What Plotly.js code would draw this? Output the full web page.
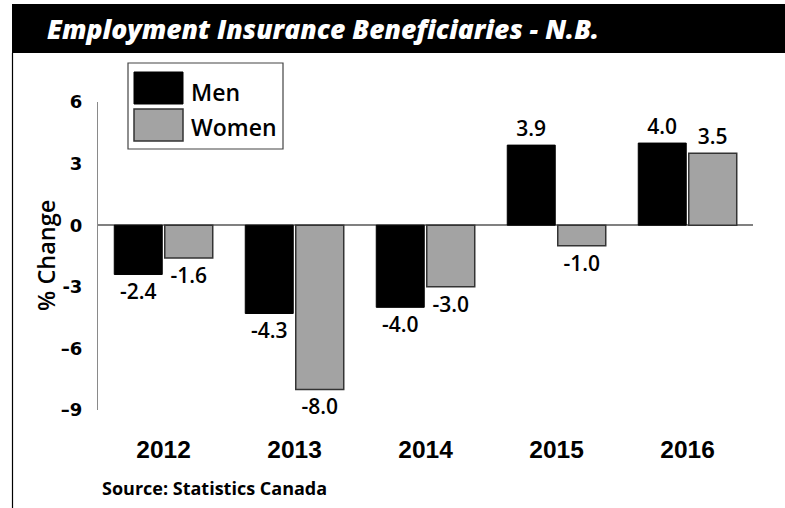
<!DOCTYPE html>
<html>
<head>
<meta charset="utf-8">
<script src="https://cdn.plot.ly/plotly-3.0.1.min.js"></script>
<style>html,body{margin:0;padding:0;background:#fff;}#chart{width:785px;height:508px;}</style>
</head>
<body>
<div id="chart"></div>
<script>
// Data
var years = ["2012", "2013", "2014", "2015", "2016"];
var menValues = [-2.4, -4.3, -4.0, 3.9, 4.0];
var womenValues = [-1.6, -8.0, -3.0, -1.0, 3.5];
var seriesNames = ["Men", "Women"];
var yTickValues = [-9, -6, -3, 0, 3, 6];
var yTickLabels = ["\u20139", "\u20136", "-3", "0", "3", "6"];

// Layout geometry (pixels)
var W = 785, H = 508;
var L = 98, R = 32, T = 102, B = 98;
var PW = W - L - R, PH = H - T - B;
function px(x) { return (x - L) / PW; }
function py(y) { return (T + PH - y) / PH; }

var labelFont = {family: "Open Sans, sans-serif", size: 21, color: "#000", weight: 600};

var traces = [
  {
    type: "bar", name: seriesNames[0], x: years, y: menValues,
    marker: {color: "#000000", line: {color: "#000000", width: 1}},
    texttemplate: "%{y:.1f}", textposition: "outside", textfont: labelFont,
    constraintext: "none", cliponaxis: false, hoverinfo: "x+y"
  },
  {
    type: "bar", name: seriesNames[1], x: years, y: womenValues,
    marker: {color: "#a3a3a3", line: {color: "#333333", width: 1.5}},
    texttemplate: "%{y:.1f}", textposition: "outside", textfont: labelFont,
    constraintext: "none", cliponaxis: false, hoverinfo: "x+y"
  }
];

var layout = {
  width: W, height: H,
  margin: {l: L, r: R, t: T, b: B, pad: 0},
  paper_bgcolor: "#ffffff", plot_bgcolor: "#ffffff",
  showlegend: false,
  barmode: "group", bargap: 0.229, bargroupgap: 0.05,
  title: {
    text: "Employment Insurance Beneficiaries - N.B.",
    font: {family: "Open Sans, sans-serif", size: 26.5, color: "#ffffff", weight: 800, style: "italic"},
    xref: "container", yref: "container", x: 47 / W, xanchor: "left",
    y: 1 - 30 / H, yanchor: "middle"
  },
  xaxis: {
    type: "category", range: [-0.5, 4.5], fixedrange: true,
    showline: false, showgrid: false, zeroline: false, ticks: "",
    ticklabelstandoff: 22,
    tickfont: {family: "Liberation Sans Narrow, Arial Narrow, sans-serif", size: 24.5, color: "#000", weight: 700}
  },
  yaxis: {
    range: [-9, 6], fixedrange: true,
    tickvals: yTickValues, ticktext: yTickLabels,
    showline: true, linecolor: "#8a8a8a", linewidth: 1,
    showgrid: false, zeroline: true, zerolinecolor: "#808080", zerolinewidth: 2,
    ticks: "", ticklabelstandoff: 11,
    tickfont: {family: "DejaVu Sans, sans-serif", size: 18, color: "#000", weight: 700}
  },
  shapes: [
    // title bar
    {type: "rect", xref: "paper", yref: "paper", x0: px(12), x1: px(786), y0: py(4), y1: py(53),
     fillcolor: "#000000", line: {width: 0}, layer: "below"},
    // left border
    {type: "line", xref: "paper", yref: "paper", x0: px(12.5), x1: px(12.5), y0: py(53), y1: py(509),
     line: {color: "#000000", width: 1.2}},
    // legend box
    {type: "rect", xref: "paper", yref: "paper", x0: px(128), x1: px(283), y0: py(63), y1: py(149),
     fillcolor: "rgba(0,0,0,0)", line: {color: "#444444", width: 1.2}},
    {type: "rect", xref: "paper", yref: "paper", x0: px(134), x1: px(183), y0: py(72), y1: py(104),
     fillcolor: "#000000", line: {color: "#000000", width: 1}},
    {type: "rect", xref: "paper", yref: "paper", x0: px(134), x1: px(183), y0: py(109), y1: py(141),
     fillcolor: "#a3a3a3", line: {color: "#333333", width: 1.5}}
  ],
  annotations: [
    {text: seriesNames[0], xref: "paper", yref: "paper", x: px(189), y: py(92), xanchor: "left", yanchor: "middle",
     showarrow: false, font: {family: "Open Sans, sans-serif", size: 23, color: "#000", weight: 600}},
    {text: seriesNames[1], xref: "paper", yref: "paper", x: px(189), y: py(127), xanchor: "left", yanchor: "middle",
     showarrow: false, font: {family: "Open Sans, sans-serif", size: 23, color: "#000", weight: 600}},
    {text: "% Change", xref: "paper", yref: "paper", x: px(46), y: py(256), xanchor: "center", yanchor: "middle",
     textangle: -90, showarrow: false, font: {family: "Open Sans, sans-serif", size: 23.5, color: "#000", weight: 600}},
    {text: "Source: Statistics Canada", xref: "paper", yref: "paper", x: px(100), y: py(488), xanchor: "left", yanchor: "middle",
     showarrow: false, font: {family: "Open Sans, sans-serif", size: 18, color: "#000", weight: 700}}
  ]
};

Plotly.newPlot("chart", traces, layout, {displayModeBar: false, staticPlot: true});
</script>
</body>
</html>
